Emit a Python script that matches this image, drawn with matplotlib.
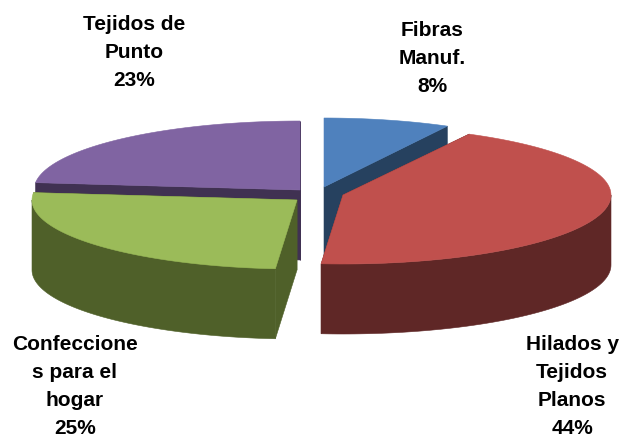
import numpy as np
import matplotlib
matplotlib.use('Agg')
from matplotlib import pyplot as plt
from matplotlib.patches import Polygon

# shares (printed labels are rounded)
categories = ['Fibras\nManuf.', 'Hilados y\nTejidos\nPlanos', 'Confeccione\ns para el\nhogar', 'Tejidos de\nPunto']
values = [7.8, 43.5, 25.4, 23.3]
pct_labels = ['8%', '44%', '25%', '23%']

top_colors = ['#4F81BD', '#C0504D', '#9BBB59', '#8064A2']
side_colors = ['#26415F', '#5F2726', '#4F6029', '#403152']

# layout in pixels: apex of each exploded slice, radius, label centre
apex = [(324, 187), (343, 195), (297, 200), (300, 190)]
rx = [262, 268, 265, 266]
ry = 69
depth = 70
label_pos = [(432, 58), (572, 387), (75, 387), (134, 52)]
draw_order = [3, 0, 2, 1]


def rim(i, t0, t1, dy=0):
    t = np.radians(np.linspace(t0, t1, 80))
    x = apex[i][0] + rx[i] * np.sin(t)
    y = apex[i][1] - ry * np.cos(t) + dy
    return np.column_stack([x, y])


def wall(i, t, ax, zo):
    p = rim(i, t, t)[0]
    a = apex[i]
    pts = [a, p, (p[0], p[1] + depth), (a[0], a[1] + depth)]
    ax.add_patch(Polygon(pts, fc=side_colors[i], ec=side_colors[i], lw=0.4, zorder=zo))


def main():
    fig = plt.figure(figsize=(6.2, 4.34), dpi=100)
    ax = fig.add_axes([0, 0, 1, 1])
    ax.set_xlim(0, 620)
    ax.set_ylim(434, 0)
    ax.axis('off')

    edges = np.concatenate([[0], np.cumsum(values)]) / np.sum(values) * 360

    for zo, i in enumerate(draw_order):
        t0, t1 = edges[i], edges[i + 1]
        # flat cut faces, the later slices hide what should not show
        wall(i, t0, ax, zo)
        wall(i, t1, ax, zo)
        # outer curved side, only the front half of the rim
        f0, f1 = max(t0, 90), min(t1, 270)
        if f1 > f0:
            pts = np.vstack([rim(i, f0, f1), rim(i, f1, f0, depth)])
            ax.add_patch(Polygon(pts, fc=side_colors[i], ec=side_colors[i], lw=0.4, zorder=zo))
        pts = np.vstack([[apex[i]], rim(i, t0, t1)])
        ax.add_patch(Polygon(pts, fc=top_colors[i], ec=top_colors[i], lw=0.4, zorder=zo))

    for name, pct, pos in zip(categories, pct_labels, label_pos):
        ax.text(pos[0], pos[1], name + '\n' + pct, ha='center', va='center', ma='center',
                family='Liberation Sans', weight='bold', fontsize=15, linespacing=1.6,
                color='black', zorder=10)

    fig.savefig('out.png', dpi=100, facecolor='white')


if __name__ == '__main__':
    main()
